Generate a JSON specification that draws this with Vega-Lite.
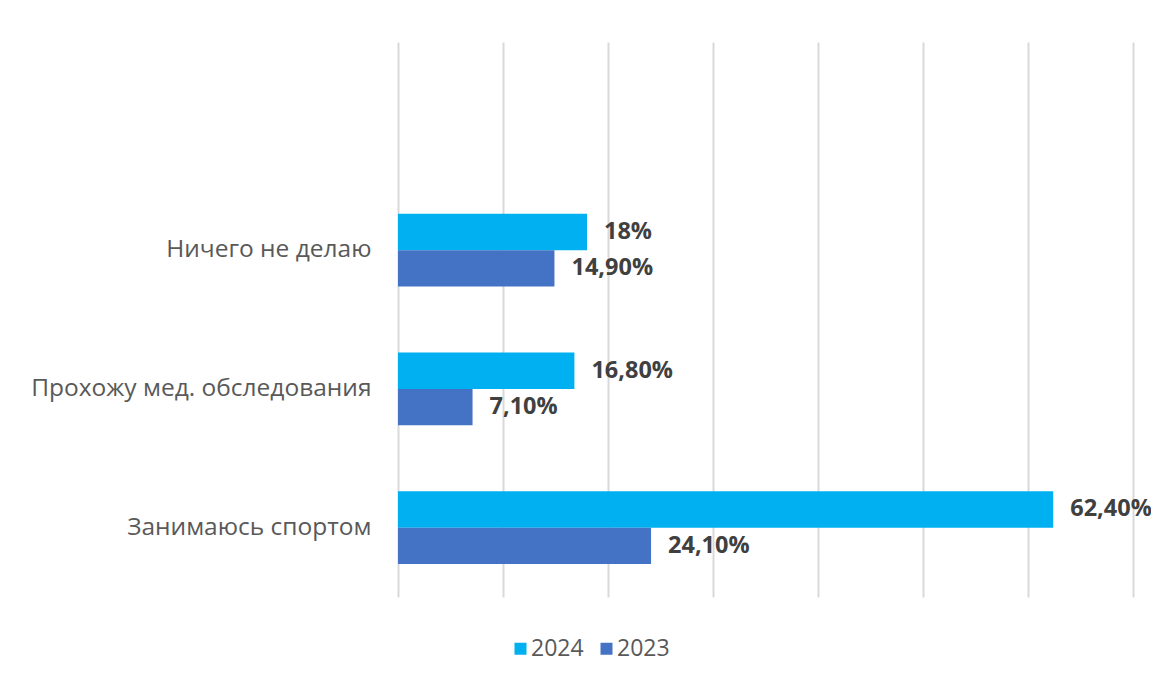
{
  "$schema": "https://vega.github.io/schema/vega-lite/v6.json",
  "width": 735,
  "height": 555,
  "padding": {"left": 10, "top": 42, "right": 0, "bottom": 20},
  "background": "white",
  "config": {
    "view": {"stroke": null},
    "font": "Open Sans"
  },
  "data": {
    "values": [
      {"category": "Ничего не делаю", "year": "2024", "value": 18.0, "label": "18%"},
      {"category": "Ничего не делаю", "year": "2023", "value": 14.9, "label": "14,90%"},
      {"category": "Прохожу мед. обследования", "year": "2024", "value": 16.8, "label": "16,80%"},
      {"category": "Прохожу мед. обследования", "year": "2023", "value": 7.1, "label": "7,10%"},
      {"category": "Занимаюсь спортом", "year": "2024", "value": 62.4, "label": "62,40%"},
      {"category": "Занимаюсь спортом", "year": "2023", "value": 24.1, "label": "24,10%"}
    ]
  },
  "encoding": {
    "y": {
      "field": "category",
      "type": "nominal",
      "scale": {
        "domain": [" ", "Ничего не делаю", "Прохожу мед. обследования", "Занимаюсь спортом"],
        "paddingInner": 0.474,
        "paddingOuter": 0.237
      },
      "axis": {
        "title": null,
        "ticks": false,
        "domain": false,
        "labelPadding": 27,
        "labelFontSize": 24.5,
        "labelColor": "#595959",
        "minExtent": 388,
        "maxExtent": 388,
        "labelLimit": 400
      }
    },
    "yOffset": {
      "field": "year",
      "type": "nominal",
      "sort": ["2024", "2023"],
      "scale": {"paddingInner": 0, "paddingOuter": 0}
    },
    "x": {
      "field": "value",
      "type": "quantitative",
      "scale": {"domain": [0, 70], "nice": false},
      "axis": {
        "title": null,
        "values": [0, 10, 20, 30, 40, 50, 60, 70],
        "labels": false,
        "ticks": false,
        "domain": false,
        "grid": true,
        "gridColor": "#D9D9D9",
        "gridWidth": 2
      }
    }
  },
  "layer": [
    {
      "mark": {"type": "bar"},
      "encoding": {
        "color": {
          "field": "year",
          "type": "nominal",
          "scale": {"domain": ["2024", "2023"], "range": ["#00B0F0", "#4472C4"]},
          "legend": {
            "title": null,
            "orient": "none",
            "direction": "horizontal",
            "legendX": 111,
            "legendY": 595,
            "symbolType": "square",
            "symbolSize": 144,
            "symbolStrokeWidth": 0,
            "labelFontSize": 23,
            "labelColor": "#595959",
            "labelLimit": 200,
            "columnPadding": 11,
            "labelOffset": -1,
            "padding": 0
          }
        }
      }
    },
    {
      "mark": {"type": "text", "align": "left", "baseline": "middle", "dx": 17, "fontSize": 23.5, "fontWeight": "bold", "color": "#404040"},
      "encoding": {
        "text": {"field": "label"}
      }
    }
  ]
}
